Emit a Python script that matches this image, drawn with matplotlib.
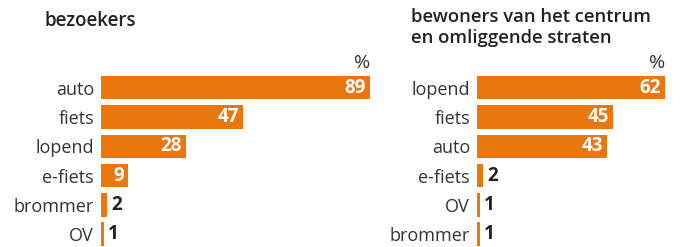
import matplotlib.pyplot as plt

plt.rcParams['font.family'] = ['Open Sans', 'DejaVu Sans']

visitor_modes = ["auto", "fiets", "lopend", "e-fiets", "brommer", "OV"]
visitor_pct = [89, 47, 28, 9, 2, 1]

resident_modes = ["lopend", "fiets", "auto", "e-fiets", "OV", "brommer"]
resident_pct = [62, 45, 43, 2, 1, 1]

orange = "#E8770F"
dark = "#222222"

fig = plt.figure(figsize=(6.8, 2.47), dpi=100)


def panel(rect, modes, values, xmax):
    ax = fig.add_axes(rect)
    y = range(len(modes))
    ax.barh(y, values, height=0.8, color=orange)
    ax.set_xlim(0, xmax)
    ax.set_ylim(5.44, -0.5)
    ax.set_yticks(list(y))
    ax.set_yticklabels(modes, fontsize=13, color="#333333")
    ax.tick_params(axis="y", length=0, pad=5)
    ax.set_xticks([])
    for s in ax.spines.values():
        s.set_visible(False)
    for i, v in enumerate(values):
        if v >= 5:
            ax.annotate(str(v), (v, i), xytext=(-3, 0), textcoords="offset points",
                        ha="right", va="center", color="white",
                        fontsize=13.5, fontweight="bold")
        else:
            ax.annotate(str(v), (v, i), xytext=(3, 0), textcoords="offset points",
                        ha="left", va="center", color=dark,
                        fontsize=13.5, fontweight="bold")
    ax.annotate("%", (max(values), -0.5), xytext=(0, 1), textcoords="offset points",
                ha="right", va="bottom", fontsize=14, color="#333333")
    return ax


panel([101 / 680, 0, 272 / 680, 174 / 247], visitor_modes, visitor_pct, 90)
panel([477 / 680, 0, 200 / 680, 174 / 247], resident_modes, resident_pct, 66)

fig.text(45 / 680, 1 - 21 / 247, "bezoekers", fontsize=13.5, fontweight="semibold",
         color=dark, va="center", ha="left")
fig.text(411 / 680, 1 - 8 / 247, "bewoners van het centrum\nen omliggende straten",
         fontsize=13.3, fontweight="semibold", color=dark, va="top", ha="left",
         linespacing=1.2)

fig.savefig("out.png", dpi=100)
